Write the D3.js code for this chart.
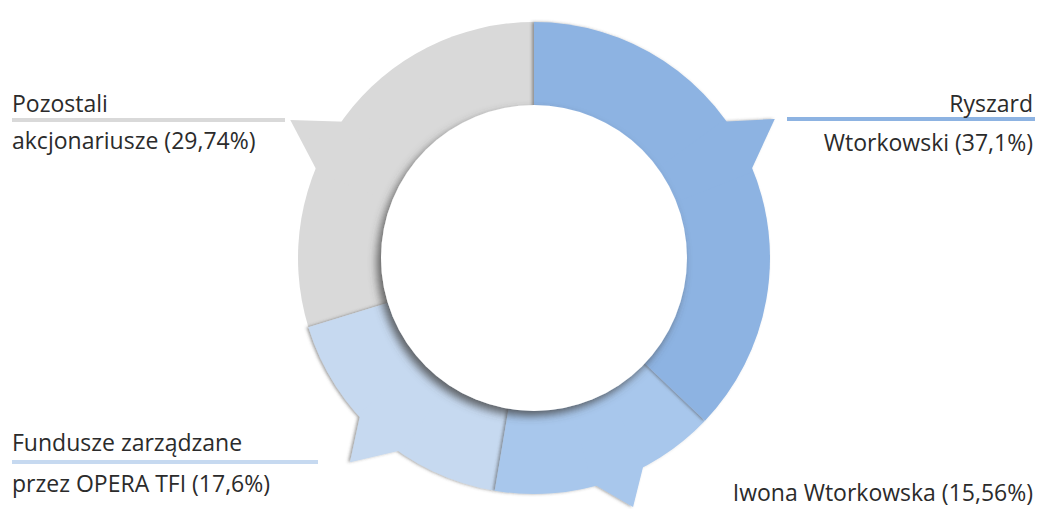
<!DOCTYPE html>
<html><head><meta charset="utf-8">
<script src="https://cdn.jsdelivr.net/npm/d3@7"></script>
<style>body{margin:0;background:#fff}text{font-family:"Open Sans",sans-serif;font-size:23px;fill:#2b2b2b}</style>
</head><body><svg id="c" width="1038" height="509"></svg>
<script>
const names = ["Ryszard Wtorkowski", "Iwona Wtorkowska", "Fundusze zarządzane przez OPERA TFI", "Pozostali akcjonariusze"];
const shares = [37.1, 15.56, 17.6, 29.74];
const colors = ["#8db3e2", "#a8c7ec", "#c6d9f0", "#d9d9d9"];
// tab pointers: [base angle 1, tip angle, base angle 2] in degrees, tip radius
const tabs = [[54, 60, 68.5, 278], [151.6, 158.3, 165.7, 268], [214.3, 222, 228.3, 275], [291.5, 299.5, 306, 280]];
const labels = [
  {lines: ["Ryszard", "Wtorkowski (37,1%)"], x: 1033, anchor: "end", y: [112, 151], rule: [787, 1035, 119]},
  {lines: ["Iwona Wtorkowska (15,56%)"], x: 1033, anchor: "end", y: [501]},
  {lines: ["Fundusze zarządzane", "przez OPERA TFI (17,6%)"], x: 12, anchor: "start", y: [451, 492], rule: [12, 318, 462]},
  {lines: ["Pozostali", "akcjonariusze (29,74%)"], x: 12, anchor: "start", y: [112, 149], rule: [12, 285, 120]}
];

const svg = d3.select("#c");
const cx = 534, cy = 258, R = 236, r0 = 153;
const defs = svg.append("defs");
defs.append("filter").attr("id", "sh").attr("x", "-20%").attr("y", "-20%").attr("width", "140%").attr("height", "140%")
  .append("feDropShadow").attr("dx", -4).attr("dy", 5).attr("stdDeviation", 4).attr("flood-color", "#444").attr("flood-opacity", 0.8);
defs.append("filter").attr("id", "sh2")
  .append("feDropShadow").attr("dx", -2).attr("dy", 0).attr("stdDeviation", 1.5).attr("flood-color", "#444").attr("flood-opacity", 0.5);

const g = svg.append("g").attr("transform", `translate(${cx},${cy})`);
const pie = d3.pie().sort(null).value(d => d)(shares);
const arc = d3.arc().innerRadius(0).outerRadius(R);
const rad = a => a * Math.PI / 180;
const pt = (a, rr) => [rr * Math.sin(rad(a)), -rr * Math.cos(rad(a))];

// draw in reverse so each slice's shadow falls on the previous one
[3, 2, 1, 0].forEach(i => {
  const sg = g.append("g").attr("filter", i === 3 ? null : "url(#sh2)");
  sg.append("path").attr("d", arc(pie[i])).attr("fill", colors[i]);
  const t = tabs[i];
  sg.append("path").attr("d", d3.line()([pt(t[0], R - 4), pt(t[1], t[3]), pt(t[2], R - 4), [0, 0]]) + "Z").attr("fill", colors[i]);
});

g.append("circle").attr("r", r0).attr("fill", "#fff").attr("filter", "url(#sh)");

labels.forEach((l, i) => {
  if (l.rule) svg.append("line").attr("x1", l.rule[0]).attr("x2", l.rule[1]).attr("y1", l.rule[2]).attr("y2", l.rule[2])
    .attr("stroke", colors[i]).attr("stroke-width", 4);
  l.lines.forEach((s, j) => svg.append("text").attr("x", l.x).attr("y", l.y[j]).attr("text-anchor", l.anchor).text(s));
});
</script></body></html>
